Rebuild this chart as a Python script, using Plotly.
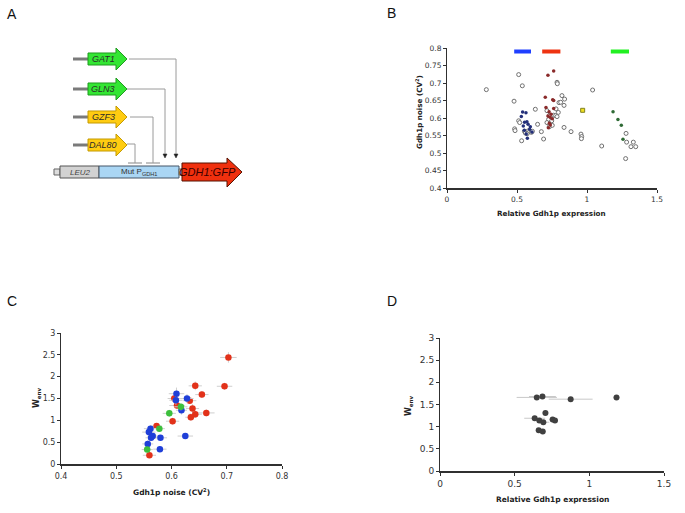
import plotly.graph_objects as go

W, H = 685, 513

# ---------------- Panel B data ----------------
b_open_x = [0.281, 0.512, 0.538, 0.479, 0.631, 0.512, 0.519, 0.483, 0.486, 0.533, 0.553, 0.565, 0.578, 0.590,
            0.603, 0.560, 0.572, 0.610, 0.647, 0.674, 0.690, 0.786, 0.788, 0.821, 0.840, 0.800, 0.812, 0.836,
            0.779, 0.795, 0.714, 0.733, 0.762, 0.776, 0.786, 0.726, 0.748, 0.731, 0.714, 0.752, 0.836, 0.886,
            1.040, 0.957, 0.962, 0.960, 1.105, 1.279, 1.283, 1.314, 1.331, 1.348, 1.276]
b_open_y = [0.681, 0.724, 0.692, 0.648, 0.625, 0.592, 0.587, 0.569, 0.564, 0.535, 0.562, 0.560, 0.563, 0.561,
            0.559, 0.557, 0.555, 0.562, 0.582, 0.561, 0.540, 0.702, 0.698, 0.664, 0.654, 0.644, 0.645, 0.636,
            0.626, 0.616, 0.621, 0.608, 0.608, 0.607, 0.604, 0.596, 0.592, 0.575, 0.587, 0.579, 0.573, 0.561,
            0.680, 0.554, 0.547, 0.541, 0.520, 0.556, 0.531, 0.518, 0.531, 0.518, 0.484]
b_blue_x = [0.540, 0.564, 0.531, 0.571, 0.554, 0.579, 0.545, 0.595, 0.590, 0.552, 0.607, 0.566, 0.574]
b_blue_y = [0.617, 0.615, 0.604, 0.589, 0.588, 0.582, 0.577, 0.575, 0.568, 0.565, 0.560, 0.554, 0.542]
b_red_x = [0.721, 0.762, 0.702, 0.755, 0.762, 0.707, 0.762, 0.729, 0.743, 0.721, 0.736, 0.752, 0.731, 0.738, 0.724]
b_red_y = [0.722, 0.734, 0.659, 0.652, 0.650, 0.630, 0.627, 0.618, 0.611, 0.606, 0.602, 0.598, 0.585, 0.580, 0.572]
b_green_x = [1.186, 1.221, 1.245, 1.257]
b_green_y = [0.618, 0.596, 0.579, 0.539]
b_yellow_x = [0.969]
b_yellow_y = [0.622]
b_bar_names = ["blue", "red", "green"]
b_bar_start = [0.48, 0.68, 1.17]
b_bar_end = [0.60, 0.81, 1.30]
b_bar_level = 0.79

# ---------------- Panel C data ----------------
c_red_x = [0.703, 0.696, 0.643, 0.655, 0.605, 0.633, 0.610, 0.638, 0.663, 0.643, 0.635, 0.602, 0.573, 0.560]
c_red_y = [2.44, 1.78, 1.79, 1.59, 1.50, 1.45, 1.34, 1.27, 1.17, 1.14, 1.07, 0.98, 0.87, 0.20]
c_red_ex = [0.015, 0.014, 0.012, 0.012, 0.012, 0.012, 0.014, 0.012, 0.015, 0.012, 0.010, 0.012, 0.010, 0.012]
c_red_ey = [0.12, 0.08, 0.10, 0.08, 0.08, 0.08, 0.08, 0.10, 0.08, 0.08, 0.08, 0.08, 0.06, 0.06]
c_blue_x = [0.609, 0.608, 0.628, 0.618, 0.562, 0.559, 0.566, 0.563, 0.580, 0.625, 0.557, 0.579]
c_blue_y = [1.61, 1.46, 1.50, 1.23, 0.81, 0.73, 0.64, 0.60, 0.60, 0.64, 0.46, 0.34]
c_blue_ex = [0.014, 0.012, 0.012, 0.010, 0.012, 0.012, 0.010, 0.010, 0.012, 0.014, 0.010, 0.012]
c_blue_ey = [0.14, 0.10, 0.10, 0.10, 0.08, 0.08, 0.08, 0.06, 0.06, 0.06, 0.08, 0.06]
c_green_x = [0.596, 0.617, 0.578, 0.556]
c_green_y = [1.16, 1.31, 0.81, 0.33]
c_green_ex = [0.012, 0.012, 0.010, 0.010]
c_green_ey = [0.08, 0.08, 0.06, 0.06]

# ---------------- Panel D data ----------------
d_x = [0.648, 0.686, 0.875, 1.182, 0.706, 0.634, 0.665, 0.692, 0.754, 0.770, 0.661, 0.688]
d_y = [1.66, 1.68, 1.62, 1.66, 1.31, 1.19, 1.14, 1.10, 1.16, 1.14, 0.92, 0.89]
d_ex = [0.135, 0.09, 0.147, 0.02, 0.02, 0.07, 0.03, 0.04, 0.02, 0.02, 0.02, 0.02]

# ---------------- Texts ----------------
a_genes = ["GAT1", "GLN3", "GZF3", "DAL80"]
a_gene_fill = ["#33e633", "#33e633", "#ffcc11", "#ffcc11"]
a_gene_line = ["#1f9a1f", "#1f9a1f", "#c49a00", "#c49a00"]
title_expr = "<b>Relative Gdh1p expression</b>"
title_noise = "<b>Gdh1p noise (CV<sup>2</sup>)</b>"
title_wenv = "<b>W<sub>env</sub></b>"

fig = go.Figure()

def P(x, y):
    return x / W, 1 - y / H

# ---------- Panel B traces ----------
for name, s, e, col in zip(b_bar_names, b_bar_start, b_bar_end, ["#1f3fff", "#ee3311", "#22f022"]):
    fig.add_trace(go.Scatter(x=[s, e], y=[b_bar_level, b_bar_level], mode="lines",
                             line=dict(color=col, width=4), xaxis="x", yaxis="y",
                             showlegend=False, hoverinfo="skip"))
fig.add_trace(go.Scatter(x=b_open_x, y=b_open_y, mode="markers", xaxis="x", yaxis="y",
                         marker=dict(size=4, color="white", line=dict(color="#707070", width=1)),
                         showlegend=False))
fig.add_trace(go.Scatter(x=b_blue_x, y=b_blue_y, mode="markers", xaxis="x", yaxis="y",
                         marker=dict(size=3.5, color="#24307a"), showlegend=False))
fig.add_trace(go.Scatter(x=b_red_x, y=b_red_y, mode="markers", xaxis="x", yaxis="y",
                         marker=dict(size=3.5, color="#8a2a2a"), showlegend=False))
fig.add_trace(go.Scatter(x=b_green_x, y=b_green_y, mode="markers", xaxis="x", yaxis="y",
                         marker=dict(size=3.5, color="#2f6a35"), showlegend=False))
fig.add_trace(go.Scatter(x=b_yellow_x, y=b_yellow_y, mode="markers", xaxis="x", yaxis="y",
                         marker=dict(size=4, symbol="square", color="#f0e020", line=dict(color="#808020", width=1)),
                         showlegend=False))

# ---------- Panel C traces ----------
for xs, ys, ex, ey, col in [(c_red_x, c_red_y, c_red_ex, c_red_ey, "#e2321a"),
                            (c_blue_x, c_blue_y, c_blue_ex, c_blue_ey, "#1f3fd8"),
                            (c_green_x, c_green_y, c_green_ex, c_green_ey, "#3cbf3c")]:
    fig.add_trace(go.Scatter(x=xs, y=ys, mode="markers", xaxis="x2", yaxis="y2",
                             error_x=dict(type="data", array=ex, color="#cfcfcf", thickness=1, width=0),
                             error_y=dict(type="data", array=ey, color="#cfcfcf", thickness=1, width=0),
                             marker=dict(size=6.5, color=col), showlegend=False))

# ---------- Panel D trace ----------
fig.add_trace(go.Scatter(x=d_x, y=d_y, mode="markers", xaxis="x3", yaxis="y3",
                         error_x=dict(type="data", array=d_ex, color="#c8c8c8", thickness=1, width=0),
                         marker=dict(size=6, color="#404040"), showlegend=False))

def px_domain(x0, x1):
    return [x0 / W, x1 / W]

def py_domain(y_top, y_bot):
    return [1 - y_bot / H, 1 - y_top / H]

tickfont = dict(family="DejaVu Sans", size=7.5, color="#333333")

def axis(domain, rng, dtick, anchor, lw, tf=tickfont):
    return dict(domain=domain, range=rng, dtick=dtick, tick0=rng[0], anchor=anchor, automargin=False,
                showgrid=False, zeroline=False, showline=True, linecolor="#303030", linewidth=lw,
                ticks="outside", ticklen=3, tickcolor="#303030", tickfont=tf)

fig.update_layout(
    width=W, height=H, autosize=False,
    margin=dict(l=0, r=0, t=0, b=0),
    paper_bgcolor="white", plot_bgcolor="white",
    xaxis=axis(px_domain(447, 657), [0, 1.5], 0.5, "y", 2),
    yaxis=axis(py_domain(48, 188), [0.4, 0.8], 0.05, "x", 1),
    xaxis2=axis(px_domain(61, 282), [0.4, 0.8], 0.1, "y2", 2,
                tf=dict(family="DejaVu Sans", size=8, color="#333333")),
    yaxis2=axis(py_domain(333, 464), [0, 3], 0.5, "x2", 1,
                tf=dict(family="DejaVu Sans", size=8, color="#333333")),
    xaxis3=axis(px_domain(440, 664), [0, 1.5], 0.5, "y3", 2,
                tf=dict(family="DejaVu Sans", size=9, color="#333333")),
    yaxis3=axis(py_domain(338, 471), [0, 3], 0.5, "x3", 1,
                tf=dict(family="DejaVu Sans", size=9, color="#333333")),
)

shapes = []
annotations = []

def text(t, tx, ty, size, color="#222222", family="DejaVu Sans", angle=0):
    x, y = P(tx, ty)
    annotations.append(dict(x=x, y=y, xref="paper", yref="paper", text=t, showarrow=False, textangle=angle,
                            font=dict(family=family, size=size, color=color),
                            xanchor="center", yanchor="middle"))

# axis titles
text(title_expr, 551, 213, 7.2)
text(title_noise, 419, 112, 7.2, angle=-90)
text(title_noise, 171, 492, 7.5)
text(title_wenv, 37, 398, 8, angle=-90)
text(title_expr, 552, 499, 7.5)
text(title_wenv, 409, 406, 8, angle=-90)

# panel letters
for letter, (lx, ly) in zip("ABCD", [(12, 14), (392, 13), (12, 301), (392, 301)]):
    text(letter, lx, ly, 14, "#111111", "Liberation Sans")

def path(points, fill, line, lw=1):
    s = "M " + " L ".join(f"{P(x, y)[0]:.5f},{P(x, y)[1]:.5f}" for x, y in points) + " Z"
    return dict(type="path", path=s, xref="paper", yref="paper", fillcolor=fill,
                line=dict(color=line, width=lw), layer="above")

def seg(x0, y0, x1, y1, color, w):
    a, b = P(x0, y0)
    c, d = P(x1, y1)
    return dict(type="line", x0=a, y0=b, x1=c, y1=d, xref="paper", yref="paper",
                line=dict(color=color, width=w), layer="above")

# gene arrows
gene_y = [59, 89, 117, 145]
for name, gy, fc, lc in zip(a_genes, gene_y, a_gene_fill, a_gene_line):
    shapes.append(seg(73, gy, 88, gy, "#7a7a7a", 3))
    shapes.append(path([(88, gy - 6), (116, gy - 6), (116, gy - 11), (127, gy), (116, gy + 11),
                        (116, gy + 6), (88, gy + 6)], fc, lc))
    text(f"<i>{name}</i>", 103, gy, 9, "#2a2a2a", "Liberation Sans")

# connector lines
lc = "#9a9a9a"
shapes += [seg(129, 59, 176, 59, lc, 1), seg(176, 59, 176, 154, lc, 1),
           seg(127, 89, 165, 89, lc, 1), seg(165, 89, 165, 154, lc, 1),
           seg(130, 117, 153, 117, lc, 1), seg(153, 117, 153, 163, lc, 1), seg(146, 163, 160, 163, lc, 1.2),
           seg(127, 144, 135, 144, lc, 1), seg(135, 144, 135, 163, lc, 1), seg(128, 163, 142, 163, lc, 1.2)]
for ax_ in (165, 176):
    shapes.append(path([(ax_ - 2, 154), (ax_ + 2, 154), (ax_, 158)], "#222222", "#222222", 0.5))

# bottom construct
shapes.append(path([(54, 169), (60, 169), (60, 175), (54, 175)], "#dddddd", "#666666"))
shapes.append(path([(60, 166), (99, 166), (99, 178), (60, 178)], "#d2d2d2", "#555555"))
shapes.append(path([(99, 166), (179, 166), (179, 178), (99, 178)], "#aad6f4", "#445566"))
shapes.append(path([(179, 169), (182, 169), (182, 175), (179, 175)], "#dddddd", "#666666"))
shapes.append(path([(182, 163), (227, 163), (227, 158), (242, 172), (227, 187), (227, 181), (182, 181)],
                   "#f0300e", "#551100"))
text("<i>LEU2</i>", 80, 172, 8, "#444444", "Liberation Sans")
text("Mut P<sub>GDH1</sub>", 139, 172, 8, "#333333", "Liberation Sans")
text("<i>GDH1:GFP</i>", 207, 172, 11, "#3a0000", "Liberation Sans")

fig.update_layout(shapes=shapes, annotations=annotations)
fig.write_html("out.html", config={"displayModeBar": False},
               post_script="document.body.style.margin='0';document.body.style.overflow='hidden';")
